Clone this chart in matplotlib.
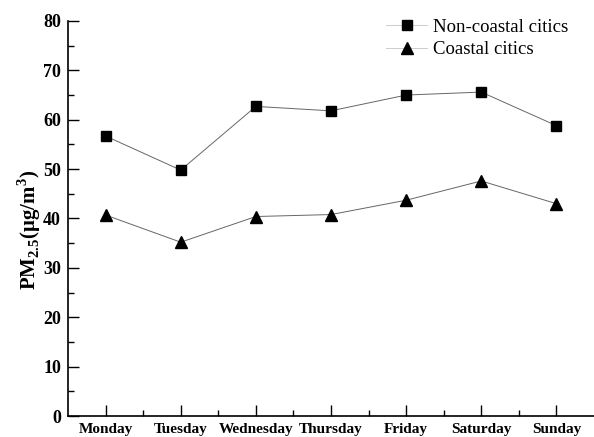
import numpy as np
import matplotlib.pyplot as plt
from matplotlib.ticker import MultipleLocator

days = ['Monday', 'Tuesday', 'Wednesday', 'Thursday', 'Friday', 'Saturday', 'Sunday']
non_coastal = [56.7, 49.8, 62.7, 61.8, 65.0, 65.6, 58.8]
coastal = [40.7, 35.2, 40.4, 40.8, 43.7, 47.6, 43.0]

plt.rcParams['font.family'] = ['Liberation Serif', 'DejaVu Serif']
plt.rcParams['mathtext.fontset'] = 'custom'
plt.rcParams['mathtext.rm'] = 'Liberation Serif:bold'
plt.rcParams['mathtext.bf'] = 'Liberation Serif:bold'

fig = plt.figure(figsize=(5.94, 4.37), dpi=100)
ax = fig.add_axes([0.1145, 0.048, 0.8855, 0.904])

x = np.arange(1, len(days) + 1)
ax.plot(x, non_coastal, color='#666666', lw=0.7, marker='s', ms=7,
        mfc='black', mec='black', label='Non-coastal citics')
ax.plot(x, coastal, color='#666666', lw=0.7, marker='^', ms=8,
        mfc='black', mec='black', label='Coastal citics')

ax.set_xlim(0.5, 7.5)
ax.set_ylim(0, 80)
ax.set_xticks(x)
ax.set_xticklabels(days, fontweight='bold', fontsize=11)
ax.set_xticks(np.arange(1.5, 7.5, 1), minor=True)
ax.yaxis.set_major_locator(MultipleLocator(10))
ax.yaxis.set_minor_locator(MultipleLocator(5))
for lab in ax.get_yticklabels():
    lab.set_fontweight('bold')
    lab.set_fontsize(13)

ax.tick_params(which='major', direction='in', length=8, width=1)
ax.tick_params(which='minor', direction='in', length=4, width=1)
ax.tick_params(axis='x', pad=5)
ax.tick_params(axis='y', pad=5)
ax.spines['top'].set_visible(False)
ax.spines['right'].set_visible(False)
for s in ['left', 'bottom']:
    ax.spines[s].set_linewidth(1.2)

ax.set_ylabel(r'PM$_{2.5}$(μg/m$^{3}$)', fontsize=15, fontweight='bold')
ax.yaxis.set_label_coords(-0.048, 0.47)

leg = ax.legend(loc='upper right', frameon=False, fontsize=13.5,
                handlelength=2.2, handletextpad=0.3, borderaxespad=0.2,
                labelspacing=0.3, bbox_to_anchor=(0.972, 1.035))
for h in leg.get_lines():
    h.set_color('#cccccc')

fig.savefig('out.png', dpi=100)
